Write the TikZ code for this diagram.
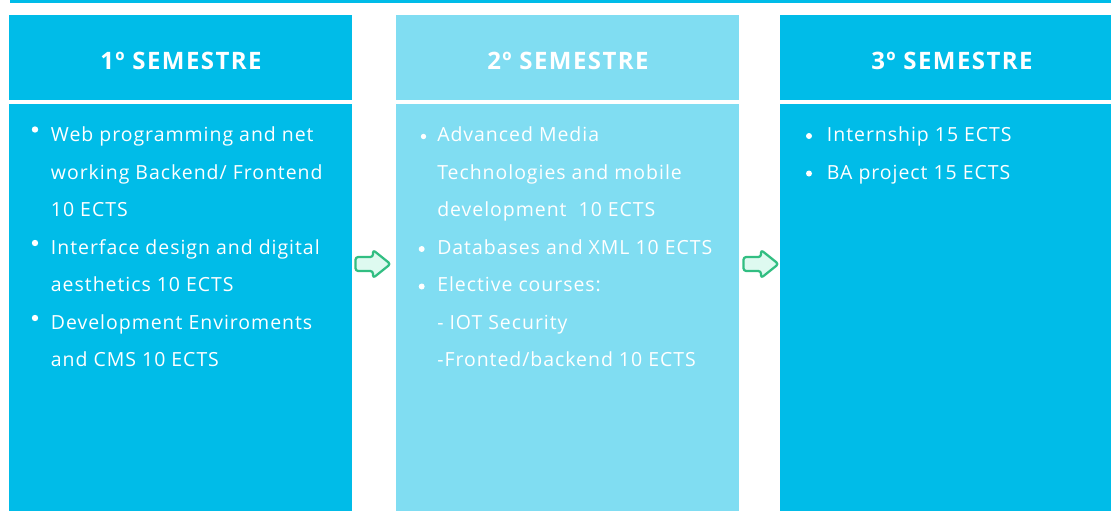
\documentclass[tikz,border=0pt]{standalone}
\usepackage{fontspec}
\setmainfont{Open Sans}
\newfontfamily\bodyfont[LetterSpace=5]{Open Sans}
\newfontfamily\headfont[LetterSpace=6]{Open Sans}
\definecolor{sdark}{RGB}{0,188,232}
\definecolor{slight}{RGB}{128,221,242}
\definecolor{agreen}{RGB}{50,190,130}
\definecolor{amint}{RGB}{222,250,240}
\begin{document}
\begin{tikzpicture}[x=0.75pt,y=-0.75pt,
  panel/.style={anchor=north west, inner sep=0, outer sep=0, minimum width={343*0.75pt}},
  hdr/.style={panel, minimum height={85*0.75pt}},
  bodybox/.style={panel, minimum height={407*0.75pt}},
  htext/.style={anchor=base, text=white, inner sep=0, font=\headfont\fontsize{18pt}{21pt}\selectfont\bfseries},
  ltext/.style={anchor=base west, text=white, inner sep=0, font=\bodyfont\fontsize{14.6pt}{17pt}\selectfont},
  bul/.style={fill=white},
  arrowsym/.style={draw=agreen, fill=amint, line width=1.7pt, rounded corners=2pt, line join=round}]
\useasboundingbox (0,0) rectangle (1111,511);
\clip (0,0) rectangle (1111,511);
% top rule
\fill[sdark] (10,0) rectangle (1111,3);
% panels
\node[hdr, fill=sdark] (h1) at (9,15) {};
\node[bodybox, fill=sdark] (b1) at (9,104) {};
\node[hdr, fill=slight] (h2) at (396,15) {};
\node[bodybox, fill=slight] (b2) at (396,104) {};
\node[hdr, fill=sdark] (h3) at (780,15) {};
\node[bodybox, fill=sdark] (b3) at (780,104) {};
% headers
\node[htext] (t1) at (181,69.5) {1º SEMESTRE};
\node[htext] (t2) at (568,69.5) {2º SEMESTRE};
\node[htext] (t3) at (952,69.5) {3º SEMESTRE};
% column 1
\node[ltext] (c1l1) at (50.7,141.7) {Web programming and net};
\node[ltext] (c1l2) at (50.7,179.2) {working Backend/ Frontend};
\node[ltext] (c1l3) at (50.7,216.7) {10 ECTS};
\node[ltext] (c1l4) at (50.7,254.2) {Interface design and digital};
\node[ltext] (c1l5) at (50.7,291.7) {aesthetics 10 ECTS};
\node[ltext] (c1l6) at (50.7,329.2) {Development Enviroments};
\node[ltext] (c1l7) at (50.7,366.7) {and CMS 10 ECTS};
\fill[bul] (35,129.5) circle (3.2);
\fill[bul] (35,243) circle (3.2);
\fill[bul] (35,318) circle (3.2);
% column 2
\node[ltext] (c2l1) at (437,141.7) {Advanced Media};
\node[ltext] (c2l2) at (437,179.2) {Technologies and mobile};
\node[ltext] (c2l3) at (437,216.7) {development~ 10 ECTS};
\node[ltext] (c2l4) at (437,254.2) {Databases and XML 10 ECTS};
\node[ltext] (c2l5) at (437,291.7) {Elective courses:};
\node[ltext] (c2l6) at (437,329.2) {- IOT Security};
\node[ltext] (c2l7) at (437,366.7) {-Fronted/backend 10 ECTS};
\fill[bul] (423.5,136.5) circle (2.7);
\fill[bul] (421.7,249) circle (3);
\fill[bul] (421.7,286.5) circle (3);
% column 3
\node[ltext] (c3l1) at (826.7,141.7) {Internship 15 ECTS};
\node[ltext] (c3l2) at (826.7,179.2) {BA project 15 ECTS};
\fill[bul] (809,136) circle (3);
\fill[bul] (809,173.5) circle (3);
% arrows between semesters
\coordinate (a1) at (373,264);
\coordinate (a2) at (761,264);
\foreach \c in {a1,a2}{
  \begin{scope}[shift={(\c)}]
    \draw[arrowsym] (-17.5,-7) -- (0,-7) -- (0,-14) -- (17.5,0) -- (0,14) -- (0,7) -- (-17.5,7) -- cycle;
  \end{scope}
}
\end{tikzpicture}
\end{document}
